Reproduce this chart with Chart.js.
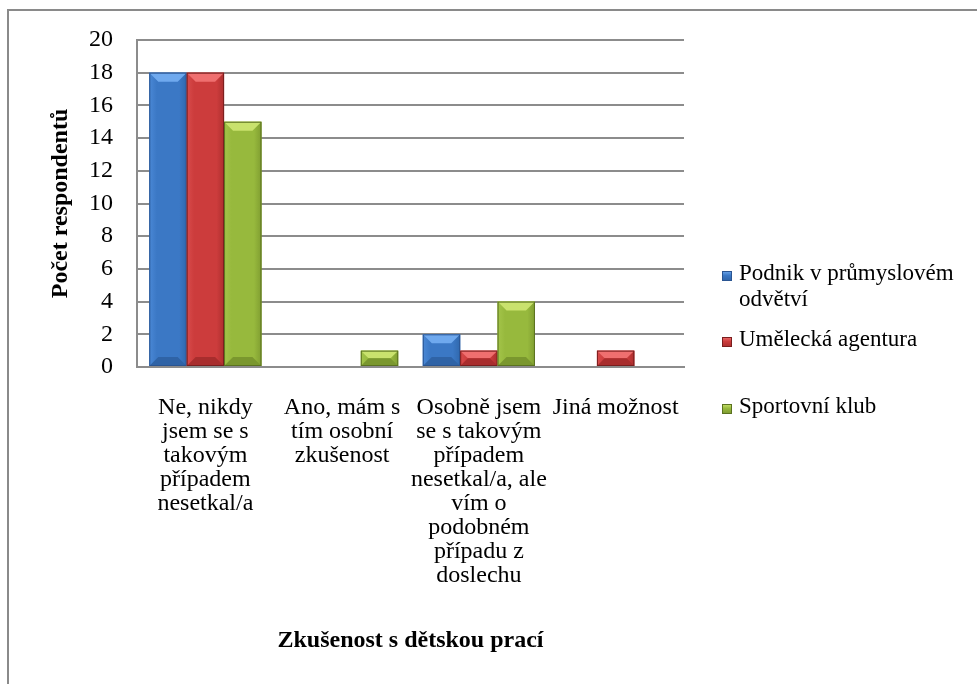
<!DOCTYPE html>
<html lang="cs">
<head>
<meta charset="UTF-8">
<title>Zkušenost s dětskou prací</title>
<script src="https://cdn.jsdelivr.net/npm/chart.js"></script>
<style>
  html, body { margin: 0; padding: 0; background: #fff; overflow: hidden; }
  #wrap { position: relative; width: 977px; height: 684px; }
  #frame { position: absolute; left: 7px; top: 9px; width: 1200px; height: 1200px; border: 2px solid #8a8a8a; }
  canvas { position: absolute; left: 0; top: 0; }
  .item { position: absolute; left: 722px; width: 252px; font: 23px "Liberation Serif", "Times New Roman", serif; line-height: 26px; color: #000; }
  .item i { position: absolute; left: 0; top: 11px; width: 10px; height: 10px; }
  .item span { display: block; margin-left: 17px; width: 235px; }
</style>
</head>
<body>
<div id="wrap">
  <div id="frame"></div>
  <canvas id="chart" width="977" height="684"></canvas>
  <div id="legend"></div>
</div>
<script>
const categories = [
  ["Ne, nikdy", "jsem se s", "takovým", "případem", "nesetkal/a"],
  ["Ano, mám s", "tím osobní", "zkušenost"],
  ["Osobně jsem", "se s takovým", "případem", "nesetkal/a, ale", "vím o", "podobném", "případu z", "doslechu"],
  ["Jiná možnost"]
];
const seriesNames = ["Podnik v průmyslovém odvětví", "Umělecká agentura", "Sportovní klub"];
const podnik = [18, 0, 2, 0];
const agentura = [18, 0, 1, 1];
const klub = [15, 1, 4, 0];
const yMin = 0, yMax = 20, yStep = 2;
const xTitle = "Zkušenost s dětskou prací";
const yTitle = "Počet respondentů";

const palettes = [
  { body: "#3b78c5", light: "#6fa9ee", side: "#4a88d6", dark: "#3068ad", bottom: "#2f63a6", edge: "#2a5592" },
  { body: "#cc3c3c", light: "#ef6f6f", side: "#d84b4b", dark: "#ad2f2f", bottom: "#a82d2d", edge: "#7a1e1e" },
  { body: "#97b93d", light: "#c9e26d", side: "#a4c54a", dark: "#809e31", bottom: "#7a972e", edge: "#5b7220" }
];

const font = '"Liberation Serif", "Times New Roman", serif';

// Excel-like bevel drawn over each bar, using the bar elements' own geometry
const bevel = {
  id: "bevel",
  afterDatasetsDraw(chart) {
    const ctx = chart.ctx;
    function poly(pts, color) {
      ctx.beginPath();
      ctx.moveTo(pts[0][0], pts[0][1]);
      for (let k = 1; k < pts.length; k++) ctx.lineTo(pts[k][0], pts[k][1]);
      ctx.closePath();
      ctx.fillStyle = color;
      ctx.fill();
    }
    chart.data.datasets.forEach((ds, i) => {
      const pal = palettes[i];
      chart.getDatasetMeta(i).data.forEach(bar => {
        const p = bar.getProps(["x", "y", "base", "width"], true);
        const h = p.base - p.y;
        if (h <= 0.5) return;
        const L = p.x - p.width / 2, R = p.x + p.width / 2, T = p.y, B = p.base;
        const b = Math.min(9, h / 2, p.width / 4);
        ctx.save();
        const g = ctx.createLinearGradient(L, 0, R, 0);
        g.addColorStop(0, pal.side);
        g.addColorStop(0.2, pal.body);
        g.addColorStop(0.8, pal.body);
        g.addColorStop(1, pal.dark);
        ctx.fillStyle = g;
        ctx.fillRect(L, T, p.width, h);
        poly([[L, T], [R, T], [R - b, T + b], [L + b, T + b]], pal.light);
        poly([[L, B], [R, B], [R - b, B - b], [L + b, B - b]], pal.bottom);
        ctx.strokeStyle = pal.edge;
        ctx.lineWidth = 1;
        ctx.strokeRect(L + 0.5, T + 0.5, p.width - 1, h - 1);
        ctx.restore();
      });
    });
  }
};

const series = [podnik, agentura, klub];

new Chart(document.getElementById("chart"), {
  type: "bar",
  data: {
    labels: categories,
    datasets: series.map((vals, i) => ({
      label: seriesNames[i],
      data: vals,
      backgroundColor: palettes[i].body,
      borderWidth: 0,
      categoryPercentage: 0.82,
      barPercentage: 1.0
    }))
  },
  options: {
    responsive: false,
    animation: false,
    devicePixelRatio: 1,
    layout: { padding: { left: 40, top: 40, right: 293, bottom: 0 } },
    plugins: { legend: { display: false }, tooltip: { enabled: false } },
    scales: {
      x: {
        grid: { display: false, drawTicks: false },
        border: { display: true, color: "#8c8c8c", width: 2 },
        ticks: {
          color: "#000",
          font: { family: font, size: 24, lineHeight: 1.0 },
          padding: 29,
          maxRotation: 0,
          autoSkip: false
        },
        title: {
          display: true,
          text: xTitle,
          color: "#000",
          font: { family: font, size: 24, weight: "bold", lineHeight: 1.2 },
          padding: { top: 0, bottom: 29 }
        },
        afterFit(scale) { scale.height = 684 - 367; }
      },
      y: {
        min: yMin,
        max: yMax,
        grid: { color: "#8c8c8c", lineWidth: 2, drawTicks: false },
        border: { display: true, color: "#8c8c8c", width: 2 },
        ticks: {
          stepSize: yStep,
          color: "#000",
          font: { family: font, size: 24 },
          padding: 24
        },
        title: {
          display: true,
          text: yTitle,
          color: "#000",
          font: { family: font, size: 24, weight: "bold", lineHeight: 1.2 },
          padding: { top: 6, bottom: 0 }
        },
        afterFit(scale) { scale.width = 137 - 40; }
      }
    }
  },
  plugins: [bevel]
});

// legend as real text, built from the series names and colours
const legendTops = [260, 326, 393];
const legend = document.getElementById("legend");
seriesNames.forEach((name, i) => {
  const pal = palettes[i];
  const item = document.createElement("div");
  item.className = "item";
  item.style.top = legendTops[i] + "px";
  const mark = document.createElement("i");
  mark.style.background = "linear-gradient(" + pal.light + " 0%, " + pal.body + " 45%, " + pal.bottom + " 100%)";
  mark.style.boxShadow = "inset 0 0 0 1px " + pal.edge;
  const text = document.createElement("span");
  text.textContent = name;
  item.appendChild(mark);
  item.appendChild(text);
  legend.appendChild(item);
});
</script>
</body>
</html>
